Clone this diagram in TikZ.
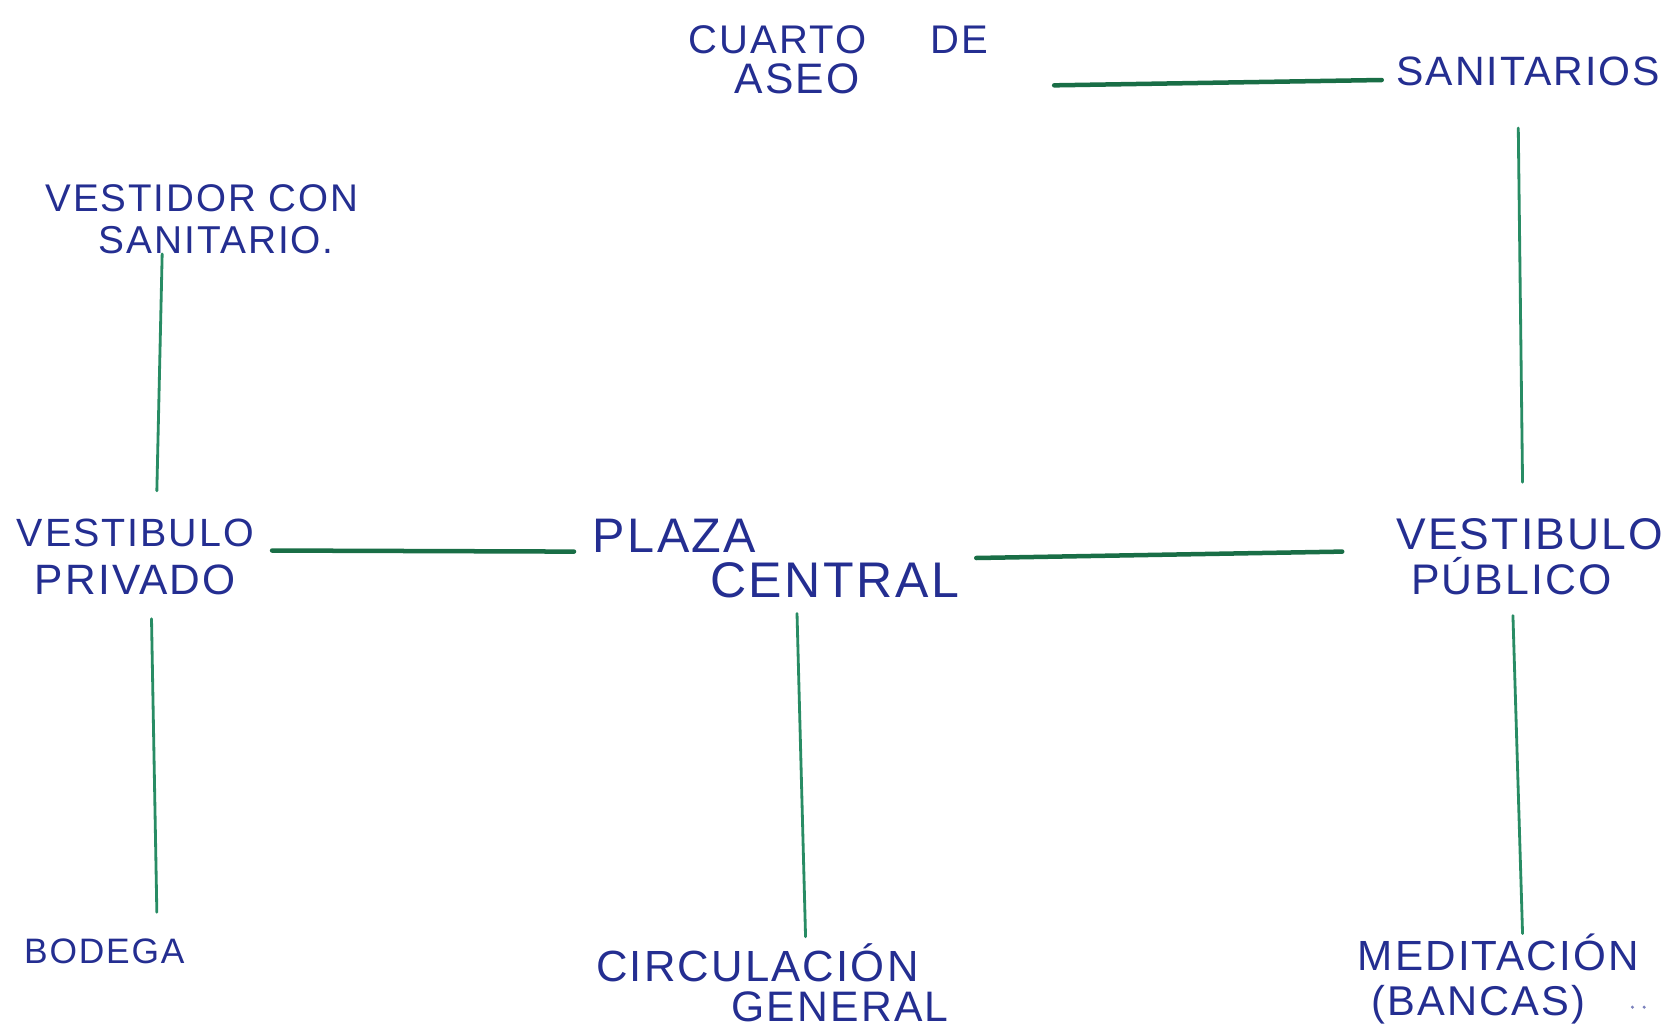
\documentclass[tikz,border=0pt]{standalone}
\usepackage{fontspec}
\usepackage{graphicx}
\newfontfamily\handfont[LetterSpace=5]{Liberation Sans}
\definecolor{ink}{RGB}{36,46,145}
\definecolor{linkdark}{RGB}{25,110,70}
\definecolor{linklight}{RGB}{40,140,100}
\newcommand{\hw}[2]{\resizebox{#1}{!}{\handfont #2}}
\begin{document}
\begin{tikzpicture}[x=0.01cm,y=-0.01cm,
  lbl/.style={inner sep=0pt, anchor=base west, text=ink},
  hlink/.style={draw=linkdark, line width=1.2pt, line cap=round},
  vlink/.style={draw=linklight, line width=0.75pt, line cap=round}]
\path[use as bounding box, fill=white] (0,0) rectangle (1568,962);

% labels
\node[lbl] (cuarto1) at (645,50)  {\hw{2.80cm}{CUARTO\hspace{1.6em}DE}};
\node[lbl] (cuarto2) at (688,88)  {\hw{1.17cm}{ASEO}};
\node[lbl] (sanit)   at (1308,80) {\hw{2.47cm}{SANITARIOS}};
\node[lbl] (vest1)   at (42,198)  {\hw{2.93cm}{VESTIDOR CON}};
\node[lbl] (vest2)   at (92,238)  {\hw{2.20cm}{SANITARIO.}};
\node[lbl] (vpriv1)  at (15,512)  {\hw{2.22cm}{VESTIBULO}};
\node[lbl] (vpriv2)  at (32,557)  {\hw{1.88cm}{PRIVADO}};
\node[lbl] (plaza1)  at (555,518) {\hw{1.53cm}{PLAZA}};
\node[lbl] (plaza2)  at (665,560) {\hw{2.33cm}{CENTRAL}};
\node[lbl] (vpub1)   at (1308,515) {\hw{2.50cm}{VESTIBULO}};
\node[lbl] (vpub2)   at (1322,557) {\hw{1.88cm}{PÚBLICO}};
\node[lbl] (bodega)  at (22,903)  {\hw{1.50cm}{BODEGA}};
\node[lbl] (circ1)   at (558,920) {\hw{3.02cm}{CIRCULACIÓN}};
\node[lbl] (circ2)   at (685,957) {\hw{2.03cm}{GENERAL}};
\node[lbl] (medit1)  at (1272,910) {\hw{2.63cm}{MEDITACIÓN}};
\node[lbl] (medit2)  at (1285,952) {\hw{2.00cm}{(BANCAS)}};

% connector end points
\coordinate (a1) at (988,80);   \coordinate (a2) at (1295,75);
\coordinate (b1) at (152,238);  \coordinate (b2) at (147,460);
\coordinate (c1) at (255,516);  \coordinate (c2) at (538,517);
\coordinate (d1) at (915,523);  \coordinate (d2) at (1258,517);
\coordinate (e1) at (1423,120); \coordinate (e2) at (1427,452);
\coordinate (f1) at (142,580);  \coordinate (f2) at (147,855);
\coordinate (g1) at (747,575);  \coordinate (g2) at (755,878);
\coordinate (h1) at (1418,577); \coordinate (h2) at (1427,875);

\draw[hlink] (a1) -- (a2);
\draw[hlink] (c1) -- (c2);
\draw[hlink] (d1) -- (d2);
\draw[vlink] (b1) -- (b2);
\draw[vlink] (e1) -- (e2);
\draw[vlink] (f1) -- (f2);
\draw[vlink] (g1) -- (g2);
\draw[vlink] (h1) -- (h2);

% small marks after (BANCAS)
\fill[ink!60] (1530,944) circle (1.6);
\fill[ink!60] (1541,944) circle (1.6);
\end{tikzpicture}
\end{document}
